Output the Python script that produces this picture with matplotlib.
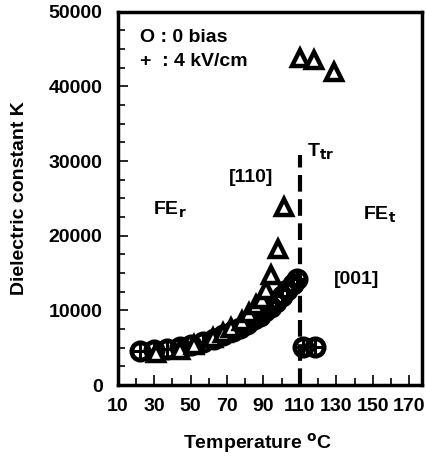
import matplotlib
matplotlib.use("Agg")
import matplotlib.pyplot as plt
from matplotlib.ticker import MultipleLocator

plt.rcParams['font.family'] = ['Liberation Sans', 'DejaVu Sans']
plt.rcParams['font.weight'] = 'bold'

# 0 bias / 4 kV/cm, [001] (circles with cross)
t_circ = [22, 30, 37, 44, 50, 57, 63, 68, 73, 77, 81, 85, 88, 91, 94, 97, 100, 103, 106, 108.5, 111.5, 118.5]
k_circ = [4600, 4700, 4900, 5100, 5400, 5800, 6200, 6700, 7200, 7700, 8200, 8800, 9300, 9900, 10500,
          11200, 12000, 12700, 13500, 14200, 5100, 5100]
# [110] (triangles)
t_tri = [31, 44, 52, 62, 68, 72, 78, 82, 86, 89, 91.5, 94, 98, 101, 110, 118, 129]
k_tri = [4300, 4700, 5400, 6350, 7000, 7600, 8650, 9600, 10700, 11600, 12700, 14700, 18200, 23800,
         43800, 43500, 42000]

T_TR = 110
FS = 14

fig = plt.figure(figsize=(4.27, 4.72), dpi=100)
ax = fig.add_axes([0.276, 0.184, 0.712, 0.791])

ax.plot(t_circ, k_circ, "o", ms=12.5, mfc="none", mec="black", mew=3.4)
ax.plot(t_circ, k_circ, "+", ms=10, mec="black", mew=2.2)
ax.plot(t_tri, k_tri, "^", ms=12, mfc="white", mec="black", mew=3.2)

ax.plot([T_TR, T_TR], [0, 30800], color="black", lw=3, ls=(0, (4, 1.8)))

ax.set_xlim(10, 177)
ax.set_ylim(0, 50000)
ax.xaxis.set_major_locator(MultipleLocator(20, offset=10))
ax.xaxis.set_minor_locator(MultipleLocator(10))
ax.yaxis.set_major_locator(MultipleLocator(10000))
ax.yaxis.set_minor_locator(MultipleLocator(2500))
ax.tick_params(which="both", direction="in", width=1.2, labelsize=FS)
ax.tick_params(which="major", length=7)
ax.tick_params(which="minor", length=5)
ax.tick_params(axis="x", pad=9)
ax.tick_params(axis="y", pad=11)
for s in ax.spines.values():
    s.set_linewidth(2.5)

ax.set_xlabel("Temperature $^{\\mathbf{o}}$C", fontsize=FS, fontweight="bold")
ax.xaxis.set_label_coords(0.46, -0.124)
ax.set_ylabel("Dielectric constant K", fontsize=FS, fontweight="bold")
ax.yaxis.set_label_coords(-0.296, 0.5)

ax.text(0.072, 0.930, "O : 0 bias", transform=ax.transAxes, fontsize=FS, va="center")
ax.text(0.072, 0.866, "+  : 4 kV/cm", transform=ax.transAxes, fontsize=FS, va="center")
ax.text(0.437, 0.557, "[110]", transform=ax.transAxes, fontsize=FS, ha="center", va="center")
ax.text(0.622, 0.625, "T$_{\\mathbf{tr}}$", transform=ax.transAxes, fontsize=FS, va="center")
ax.text(0.115, 0.47, "FE$_{\\mathbf{r}}$", transform=ax.transAxes, fontsize=FS, va="center")
ax.text(0.805, 0.456, "FE$_{\\mathbf{t}}$", transform=ax.transAxes, fontsize=FS, va="center")
ax.text(0.786, 0.284, "[001]", transform=ax.transAxes, fontsize=FS, ha="center", va="center")

fig.savefig("out.png", dpi=100)
